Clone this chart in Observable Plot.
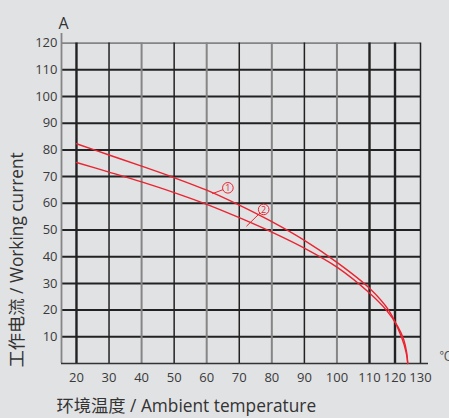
<!DOCTYPE html>
<html>
<head>
<meta charset="utf-8">
<script src="https://cdn.jsdelivr.net/npm/d3@7"></script>
<script src="https://cdn.jsdelivr.net/npm/@observablehq/plot@0.6"></script>
<style>
  html, body { margin: 0; padding: 0; background: #e1e2e4; }
  #chart { width: 449px; height: 418px; overflow: hidden; }
</style>
</head>
<body>
<div id="chart"></div>
<script>
// Tick values
const tempTicks = [20, 30, 40, 50, 60, 70, 80, 90, 100, 110, 120, 130];
const currentTicks = [10, 20, 30, 40, 50, 60, 70, 80, 90, 100, 110, 120];

// Curve ① (upper)
const curve1Temp = [20, 30, 40, 50, 60, 70, 80, 90, 100, 110, 117.5, 122.5, 124.4, 125];
const curve1Amp  = [82.3, 78.1, 73.9, 69.6, 64.9, 59.3, 53.1, 46.1, 37.9, 28.2, 20, 10, 4, 0];

// Curve ② (lower)
const curve2Temp = [20, 30, 40, 50, 60, 70, 80, 90, 100, 110, 116.6, 121, 123.4, 124.6, 125];
const curve2Amp  = [75.3, 71.7, 68.0, 64.0, 59.6, 54.6, 49.2, 43.2, 36.1, 26.4, 20, 14, 9, 4, 0];

// Callouts
const calloutLabels = ["1", "2"];
const calloutTemp = [66.5, 77.5];
const calloutAmp = [65.8, 57.7];
const leaderTemp = [61.7, 72.2];
const leaderAmp = [63.6, 51.4];

const xLabel = "环境温度 / Ambient temperature";
const yLabel = "工作电流 / Working current";
const yUnit = "A";
const xUnit = "℃";

const xMin = 15.4, xMax = 133.1, yMax = 123.6;

const curves = [
  ...curve1Temp.map((t, i) => ({series: "1", t, a: curve1Amp[i]})),
  ...curve2Temp.map((t, i) => ({series: "2", t, a: curve2Amp[i]}))
];
const callouts = calloutLabels.map((l, i) => ({
  l, t: calloutTemp[i], a: calloutAmp[i], lt: leaderTemp[i], la: leaderAmp[i]
}));

const RED = "#ea2430";
const DARK = "#222222";
const GRAY = "#858585";
const BG = "#e1e2e4";

const isGray = t => t >= 40 && t <= 100 && t % 20 === 0;
const isHeavy = t => t === 20 || t === 110 || t === 120;

const plot = Plot.plot({
  width: 449,
  height: 418,
  marginLeft: 61,
  marginRight: 21,
  marginTop: 33,
  marginBottom: 55,
  style: {
    fontFamily: "'Open Sans', 'Noto Sans CJK SC', sans-serif",
    fontSize: "13px",
    color: "#3a3a3a",
    background: BG
  },
  x: {type: "linear", domain: [xMin, 110, 130, xMax], range: [61, 369, 420, 428]},
  y: {domain: [0, yMax]},
  marks: [
    // horizontal grid
    Plot.ruleY(currentTicks.filter(v => v < 120), {x1: xMin, x2: 130, stroke: DARK, strokeWidth: 2}),
    Plot.ruleY([120], {x1: xMin, x2: 130, stroke: GRAY, strokeWidth: 1.8}),
    // vertical grid
    Plot.ruleX(tempTicks, {
      y1: 0, y2: 120,
      stroke: d => isGray(d) ? GRAY : DARK,
      strokeWidth: d => isHeavy(d) ? 2.4 : isGray(d) ? 2 : 1.5
    }),
    // axes lines
    Plot.ruleX([xMin], {y1: 0, y2: yMax, stroke: GRAY, strokeWidth: 1.8}),
    Plot.ruleY([0], {x1: xMin, x2: xMax, stroke: "#333", strokeWidth: 1.6}),
    // curves
    Plot.line(curves, {x: "t", y: "a", z: "series", stroke: RED, strokeWidth: 1.4, curve: "catmull-rom"}),
    // callouts
    Plot.link(callouts, {x1: "lt", y1: "la", x2: "t", y2: "a", stroke: RED, strokeWidth: 1}),
    Plot.dot(callouts, {x: "t", y: "a", r: 5.3, stroke: RED, fill: BG, strokeWidth: 1}),
    Plot.text(callouts, {x: "t", y: "a", text: "l", fill: RED, fontSize: 9, dy: 0.5}),
    // axes
    Plot.axisY(currentTicks, {tickSize: 0, tickPadding: 4, label: null, fontSize: 13}),
    Plot.axisX(tempTicks, {tickSize: 0, tickPadding: 9, label: null, fontSize: 13}),
    // titles
    Plot.text([yUnit], {frameAnchor: "top-left", dx: -3, dy: -16, fontSize: 16, fill: "#333"}),
    Plot.text([xUnit], {frameAnchor: "bottom-right", dx: 11, dy: -3, textAnchor: "start", fontSize: 12, fill: "#555"}),
    Plot.text([xLabel], {frameAnchor: "bottom-left", dx: -5, dy: 48, textAnchor: "start", fontSize: 17.3, fill: "#333"}),
    Plot.text([yLabel], {frameAnchor: "bottom-left", dx: -39, dy: 4, rotate: -90, textAnchor: "start", fontSize: 17.3, fill: "#333"})
  ]
});
document.getElementById("chart").appendChild(plot);
</script>
</body>
</html>
